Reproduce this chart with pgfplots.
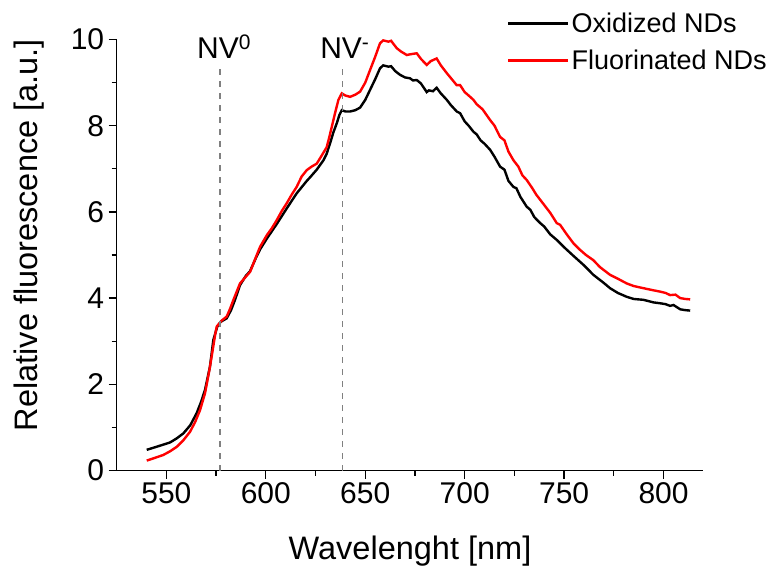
\documentclass[border=0pt]{standalone}
\usepackage{fontspec}
\setmainfont{Liberation Sans}
\usepackage{pgfplots}
\pgfplotsset{compat=1.18}
\definecolor{dashgray}{RGB}{128,128,128}
\begin{document}
\begin{tikzpicture}
\useasboundingbox (-116.7pt,-95.5pt) rectangle (656.3pt,470.5pt);
\begin{axis}[
  at={(0pt,0pt)}, anchor=south west,
  scale only axis, width=586.6pt, height=431pt,
  xmin=525, xmax=820, ymin=0, ymax=10,
  axis x line*=bottom, axis y line*=left,
  axis line style={line width=1.6pt},
  every tick/.style={black, line width=1.3pt},
  tick align=outside,
  major tick length=8pt, minor tick length=5pt,
  xtick={550,600,650,700,750,800},
  ytick={0,2,4,6,8,10},
  minor x tick num=1, minor y tick num=1,
  /pgf/number format/assume math mode=true,
  /pgf/number format/1000 sep={},
  tick label style={font=\fontsize{30}{35}\selectfont},
  xticklabel style={yshift=-1pt},
  yticklabel style={xshift=-1pt},
  xlabel={Wavelenght [nm]},
  ylabel={Relative fluorescence [a.u.]},
  label style={font=\fontsize{32.5}{38}\selectfont},
  xlabel style={at={(axis description cs:0.5,-0.206)}, anchor=base},
  ylabel style={at={(axis description cs:-0.1495,0.546)}, anchor=center, rotate=0},
  clip=false,
  legend style={at={(axis description cs:0.6654,1.0664)}, anchor=north west,
    draw=none, fill=none, inner sep=0pt, font=\fontsize{27}{31}\selectfont,
    row sep=12pt},
  legend cell align=left,
  legend image code/.code={\draw[#1, line width=2.4pt] (0pt,0pt) -- (60pt,0pt);},
  /tikz/every even column/.append style={column sep=10pt},
]
\addplot[black, line width=2.4pt] coordinates {
(540.1,0.48) (545,0.55) (551.8,0.65) (555,0.74) (558.5,0.86) (562,1.05) (565.2,1.33)
(567.5,1.6) (569.4,1.87) (571.9,2.41) (573.6,3.03) (575.6,3.34) (577.3,3.45) (580.3,3.53)
(582.5,3.72) (584.5,3.96) (587,4.30) (590,4.52) (592,4.62) (595,4.93) (597.1,5.13)
(600.5,5.38) (605.5,5.72) (610.5,6.08) (615.5,6.43) (620.6,6.72) (622.2,6.80) (625.6,6.98)
(629,7.20) (630.6,7.35) (632.3,7.59) (634,7.85) (635.7,8.06) (637,8.25) (638.2,8.36)
(640,8.33) (642.4,8.33) (645,8.36) (647.4,8.42) (650,8.6) (652.4,8.83) (655,9.08)
(657.4,9.33) (659,9.40) (661.6,9.37) (663,9.38) (665,9.27) (667.5,9.18) (670,9.12)
(672.5,9.10) (674,9.05) (675.9,9.06) (678,8.98) (680.9,8.78) (682,8.82) (684,8.80)
(685.9,8.88) (688,8.75) (691,8.60) (693,8.48) (696,8.33) (697.7,8.29) (700,8.10)
(702,8.0) (704.4,7.86) (706,7.80) (708,7.66) (710,7.58) (712.8,7.44) (715,7.28)
(717.8,7.05) (720,6.98) (722,6.72) (724.5,6.58) (726,6.55) (728,6.35) (731.2,6.12)
(733,6.05) (735,5.88) (738,5.74) (740,5.66) (743,5.48) (746.3,5.35) (750,5.18)
(754.7,4.98) (760,4.76) (764.7,4.54) (770,4.35) (773.1,4.23) (777,4.12) (781.5,4.03)
(785,3.98) (789.9,3.96) (795,3.90) (798.3,3.88) (801,3.86) (803.3,3.82) (805,3.84)
(808.4,3.74) (811,3.72) (813.4,3.71)
};
\addlegendentry{Oxidized NDs}
\addplot[red, line width=2.4pt] coordinates {
(540.1,0.23) (544,0.29) (548.4,0.36) (552,0.45) (555.2,0.55) (558.5,0.70) (561.9,0.90)
(564.5,1.13) (566.9,1.40) (569.4,1.79) (571.5,2.30) (573.3,2.80) (574.5,3.15) (575.3,3.34)
(577.8,3.48) (580.3,3.57) (582,3.75) (583.7,3.96) (587.0,4.34) (590,4.50) (592.1,4.61)
(595,4.95) (597.1,5.19) (600.5,5.46) (603,5.62) (605.5,5.81) (608,6.02) (610.5,6.20)
(613,6.40) (615.5,6.58) (618,6.82) (620.6,6.97) (623,7.05) (625.6,7.12) (628,7.30)
(630.6,7.50) (632,7.75) (634.8,8.29) (636.5,8.6) (638.2,8.75) (640,8.70) (642.4,8.67)
(645,8.72) (647.4,8.79) (650,9.0) (652.4,9.29) (655,9.6) (657.4,9.91) (659,9.98)
(661.6,9.95) (663,9.97) (665.8,9.80) (668,9.72) (670.9,9.64) (673,9.66) (675.9,9.68)
(678,9.55) (680.9,9.41) (683,9.50) (685.9,9.56) (688,9.40) (691,9.22) (693.5,9.08)
(696,8.94) (697.7,8.94) (700,8.78) (702,8.70) (704.4,8.60) (706,8.50) (709,8.38)
(712.8,8.13) (715,8.0) (717.8,7.74) (720,7.66) (722,7.40) (724.5,7.20) (727,7.05)
(729,6.85) (731.2,6.74) (734,6.55) (736,6.40) (738,6.28) (741,6.10) (743,5.98)
(746.3,5.74) (748,5.70) (751,5.50) (754.7,5.27) (758,5.12) (761,5.00) (764.7,4.88)
(768,4.72) (773.1,4.54) (777,4.45) (781.5,4.34) (785,4.28) (789.9,4.23) (795,4.18)
(798.3,4.15) (801,4.12) (803.3,4.07) (806,4.08) (808.4,4.00) (811,3.98) (813.4,3.97)
};
\addlegendentry{Fluorinated NDs}
\addplot[dashgray, line width=1.4pt, dash pattern=on 6pt off 6pt, forget plot] coordinates {(577,0) (577,9.45)};
\addplot[dashgray, line width=1.4pt, dash pattern=on 6pt off 6pt, forget plot] coordinates {(638.7,0) (638.7,9.45)};
\node[anchor=base west, inner sep=0pt, font=\fontsize{30}{36}\selectfont] at (axis cs:565.4,9.55) {NV\textsuperscript{0}};
\node[anchor=base west, inner sep=0pt, font=\fontsize{30}{36}\selectfont] at (axis cs:627.3,9.55) {NV\textsuperscript{-}};
\end{axis}
\end{tikzpicture}
\end{document}
